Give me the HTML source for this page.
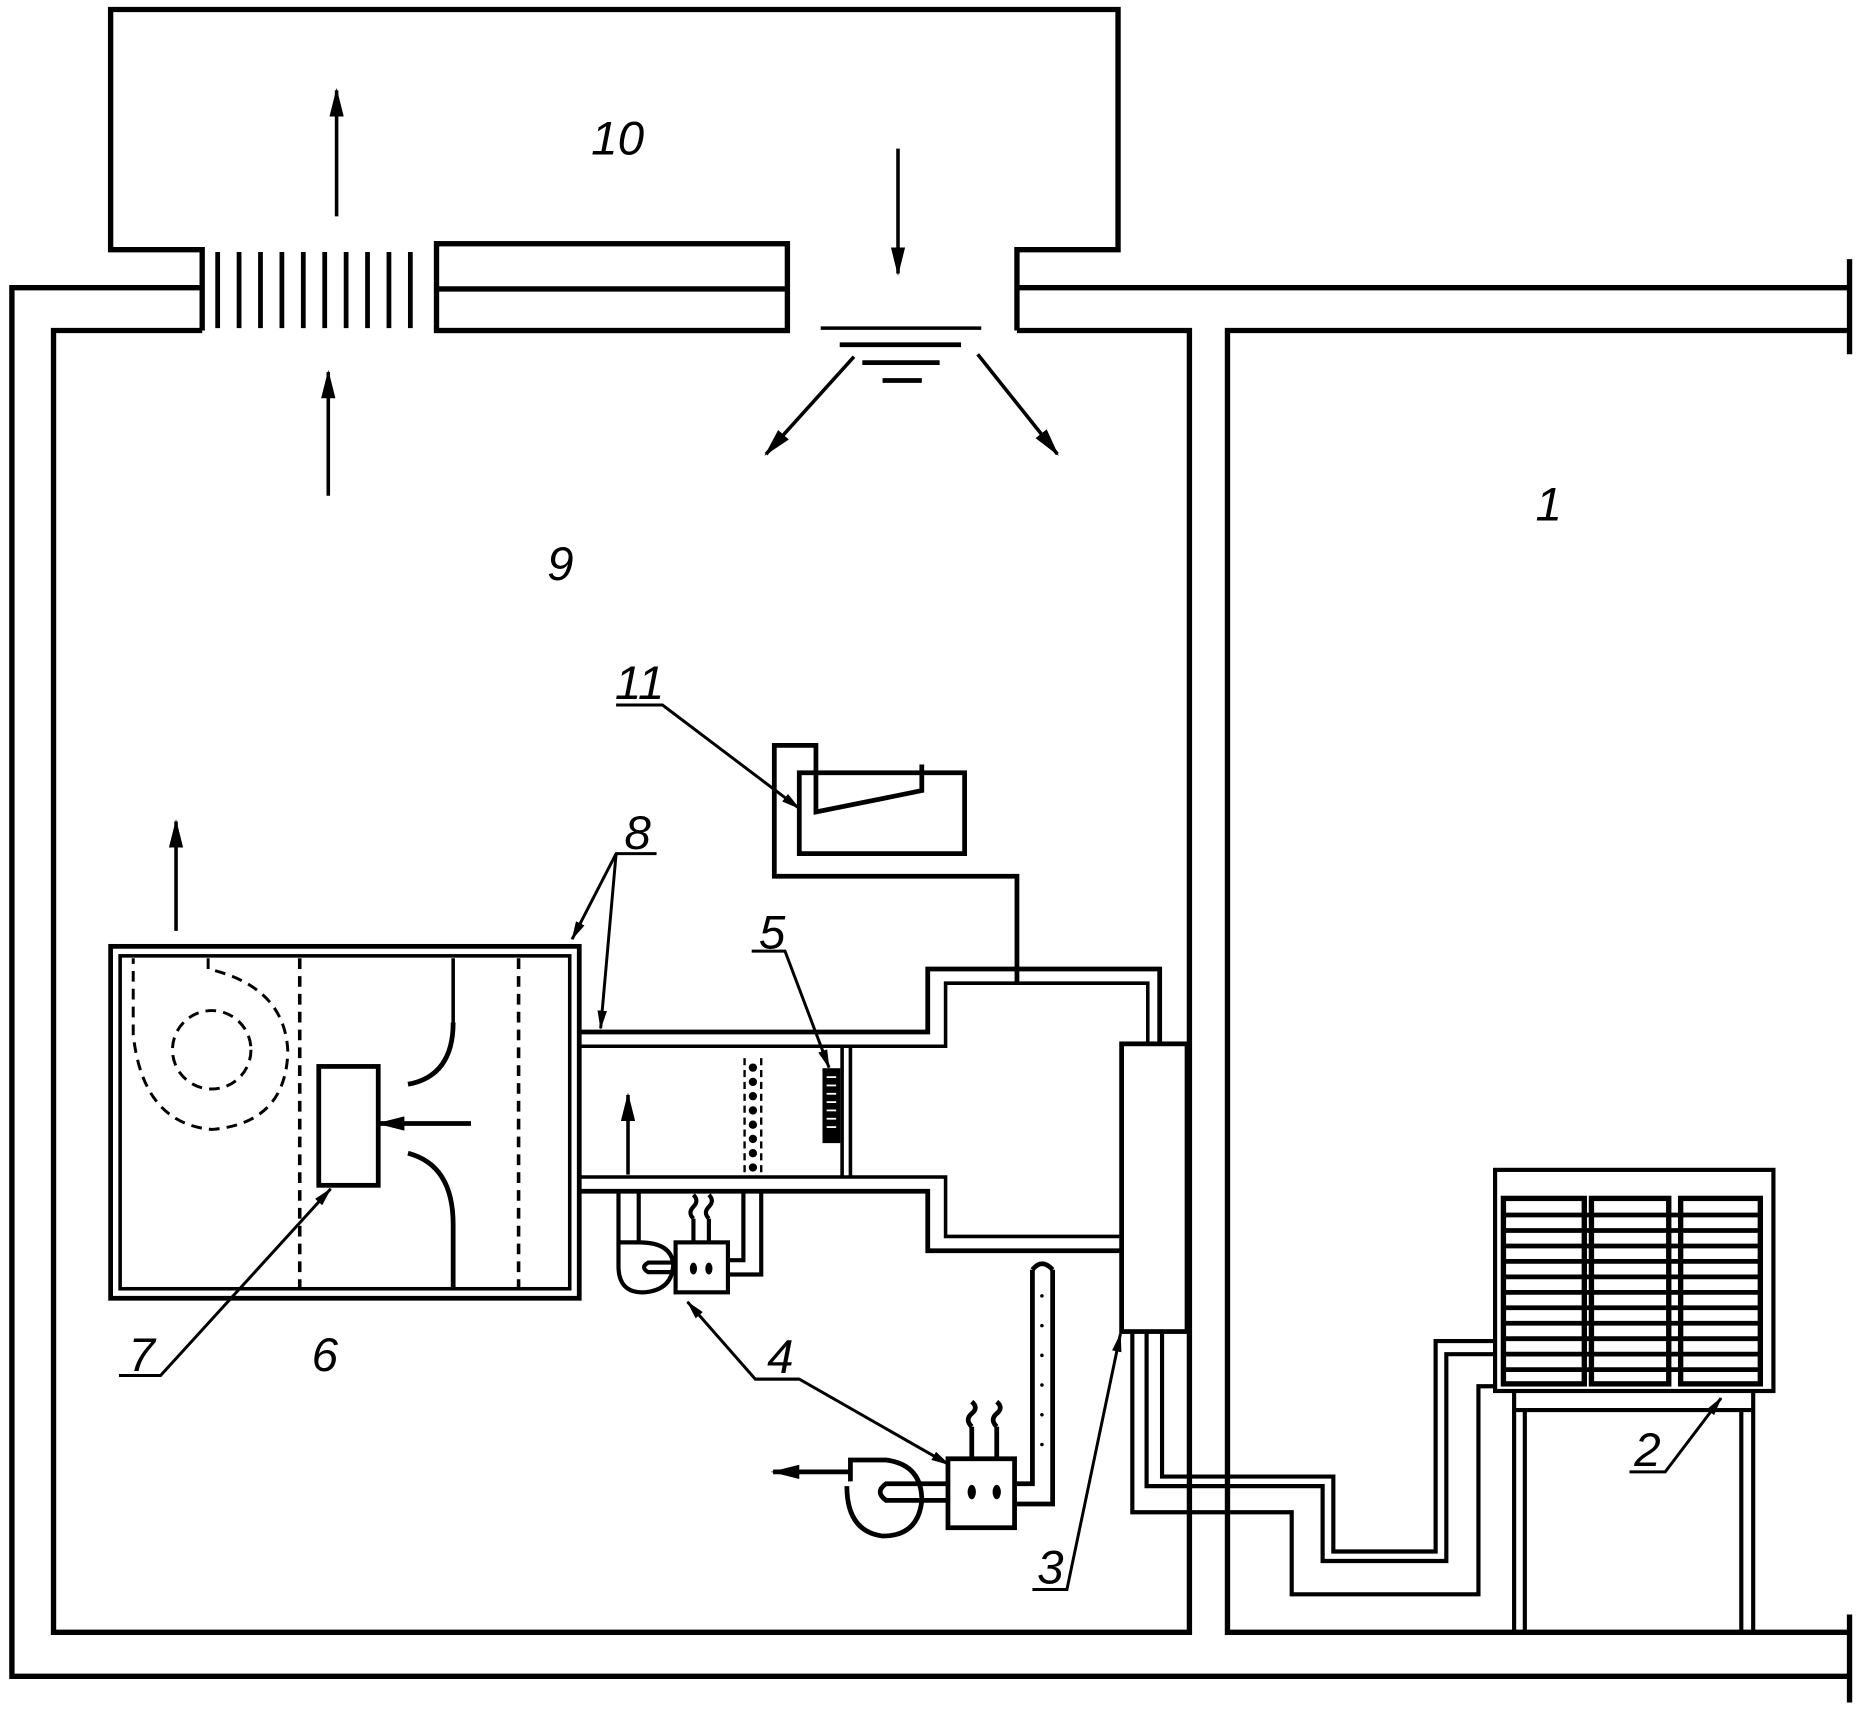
<!DOCTYPE html>
<html><head><meta charset="utf-8"><style>html,body{margin:0;padding:0;background:#fff}svg{display:block}
text{font-family:"Liberation Sans",sans-serif;font-style:italic;font-size:40px;fill:#000}</style></head>
<body>
<svg width="1865" height="1712" viewBox="0 0 1568 1440" preserveAspectRatio="none" xmlns="http://www.w3.org/2000/svg">
<defs>
<marker id="ah" markerWidth="24" markerHeight="12" refX="22" refY="6" orient="auto" markerUnits="userSpaceOnUse" viewBox="0 0 24 12"><path d="M0,0 L24,6 L0,12 Z"/></marker>
<marker id="al" markerWidth="16" markerHeight="8" refX="15" refY="4" orient="auto" markerUnits="userSpaceOnUse" viewBox="0 0 16 8"><path d="M0,0 L16,4 L0,8 Z"/></marker>
</defs>
<g fill="none" stroke="#000" stroke-width="4.5">
<polyline points="170,242 10,242 10,1410 1555,1410"/>
<line x1="1555" y1="1358" x2="1555" y2="1432"/>
<line x1="855" y1="242" x2="1555" y2="242"/>
<line x1="1555" y1="218" x2="1555" y2="298"/>
<polyline points="170,278 45,278 45,1373 1000,1373 1000,278 855,278"/>
<polyline points="1555,278 1032,278 1032,1373 1555,1373"/>
<polyline points="170,278 170,210 93,210 93,8 940,8 940,210 855,210 855,278"/>
<rect x="367" y="205" width="295" height="73"/>
<line x1="367" y1="243" x2="662" y2="243"/>
</g>
<g stroke="#000" stroke-width="4">
<line x1="183" y1="212" x2="183" y2="276"/><line x1="201" y1="212" x2="201" y2="276"/><line x1="219" y1="212" x2="219" y2="276"/><line x1="237" y1="212" x2="237" y2="276"/><line x1="255" y1="212" x2="255" y2="276"/><line x1="273" y1="212" x2="273" y2="276"/><line x1="291" y1="212" x2="291" y2="276"/><line x1="309" y1="212" x2="309" y2="276"/><line x1="327" y1="212" x2="327" y2="276"/><line x1="345" y1="212" x2="345" y2="276"/>
<line x1="690" y1="276" x2="825" y2="276" stroke-width="3"/>
<line x1="706" y1="290" x2="808" y2="290" stroke-width="4"/>
<line x1="725" y1="305" x2="790" y2="305"/>
<line x1="742" y1="320" x2="775" y2="320"/>
</g>
<g stroke="#000" stroke-width="3" marker-end="url(#ah)" fill="none">
<line x1="283" y1="182" x2="283" y2="76"/>
<line x1="276" y1="417" x2="276" y2="313"/>
<line x1="755" y1="125" x2="755" y2="230"/>
<line x1="718" y1="300" x2="644" y2="382"/>
<line x1="822" y1="298" x2="889" y2="382"/>
<line x1="148" y1="783" x2="148" y2="691"/>
<line x1="528" y1="988" x2="528" y2="921"/>
<line x1="396" y1="945" x2="318" y2="945" stroke-width="4"/>
<line x1="715" y1="1238" x2="650" y2="1238" stroke-width="4"/>
</g>
<g fill="none" stroke="#000" stroke-width="4">
<rect x="93" y="796" width="394" height="296"/>
<rect x="101" y="804" width="378" height="280" stroke-width="3"/>
<line x1="381" y1="806" x2="381" y2="860" stroke-width="3"/>
<path d="M381,860 Q381,905 343,912" />
<path d="M343,970 Q381,980 381,1030 L381,1084" />
<rect x="268" y="897" width="50" height="100"/>
</g>
<g fill="none" stroke="#000" stroke-width="2.5" stroke-dasharray="9,6">
<path d="M175,806 L175,815 Q240,830 242,885 Q240,945 178,950 Q120,945 112,870 L112,806"/>
<circle cx="178" cy="883" r="33"/>
<line x1="252" y1="806" x2="252" y2="1084" stroke-width="3"/>
<line x1="436" y1="806" x2="436" y2="1084" stroke-width="3"/>
</g>
<g fill="none" stroke="#000" stroke-width="4">
<polyline points="487,868 780,868 780,815 975,815 975,878"/>
<polyline points="487,880 795,880 795,827 965,827 965,878" stroke-width="3"/>
<polyline points="487,990 795,990 795,1040 943,1040" stroke-width="3"/>
<polyline points="487,1002 780,1002 780,1052 943,1052"/>
<line x1="708" y1="880" x2="708" y2="990" stroke-width="3"/>
<line x1="715" y1="880" x2="715" y2="990" stroke-width="3"/>
<rect x="943" y="878" width="55" height="242"/>
<polyline points="855,827 855,737 651,737 651,627 686,627 686,683 775,665 775,643"/>
<rect x="672" y="650" width="139" height="68"/>
</g>
<g stroke="#000">
<rect x="692" y="899" width="14" height="62" fill="#000"/>
<g stroke="#fff" stroke-width="1.5"><line x1="695" y1="906" x2="703" y2="906"/><line x1="695" y1="913" x2="703" y2="913"/><line x1="695" y1="920" x2="703" y2="920"/><line x1="695" y1="927" x2="703" y2="927"/><line x1="695" y1="934" x2="703" y2="934"/><line x1="695" y1="941" x2="703" y2="941"/><line x1="695" y1="948" x2="703" y2="948"/></g>
</g>
<g stroke="#000" stroke-width="2" stroke-dasharray="6,4" fill="none">
<line x1="626" y1="890" x2="626" y2="988"/><line x1="640" y1="890" x2="640" y2="988"/>
</g>
<g fill="#000"><circle cx="633" cy="898" r="3.5"/><circle cx="633" cy="910" r="3.5"/><circle cx="633" cy="922" r="3.5"/><circle cx="633" cy="934" r="3.5"/><circle cx="633" cy="946" r="3.5"/><circle cx="633" cy="958" r="3.5"/><circle cx="633" cy="970" r="3.5"/><circle cx="633" cy="982" r="3.5"/></g>
<g fill="none" stroke="#000" stroke-width="3.5">
<polyline points="520,1002 520,1045 537,1045 537,1002"/>
<path d="M520,1045 L520,1065 Q520,1088 542,1087 Q565,1085 566,1064 Q565,1045 537,1045"/>
<path d="M568,1062 L545,1062 Q538,1066 545,1070 L568,1070"/>
<rect x="568" y="1045" width="44" height="42"/>
<polyline points="612,1060 625,1060 625,1002"/>
<polyline points="612,1072 640,1072 640,1002"/>
<line x1="583" y1="1045" x2="583" y2="1025"/><line x1="596" y1="1045" x2="596" y2="1025"/>
<path d="M583,1025 q-5,-5 0,-10 q5,-5 0,-10"/><path d="M596,1025 q-5,-5 0,-10 q5,-5 0,-10"/>
</g>
<g fill="#000"><ellipse cx="583" cy="1067" rx="3" ry="5"/><ellipse cx="596" cy="1067" rx="3" ry="5"/></g>
<g fill="none" stroke="#000" stroke-width="4">
<rect x="797" y="1227" width="56" height="58"/>
<path d="M715,1246 L715,1228 L745,1228 Q775,1232 775,1262 Q772,1292 742,1292 Q712,1288 712,1250"/>
<path d="M797,1248 L745,1248 Q735,1255 745,1262 L797,1262"/>
<polyline points="853,1248 868,1248 868,1068"/>
<polyline points="853,1265 885,1265 885,1068"/>
<path d="M868,1068 Q876,1058 885,1068"/>
<line x1="817" y1="1227" x2="817" y2="1200"/><line x1="838" y1="1227" x2="838" y2="1200"/>
<path d="M817,1200 q-6,-6 0,-11 q6,-5 0,-10"/><path d="M838,1200 q-6,-6 0,-11 q6,-5 0,-10"/>
</g>
<g fill="#000"><ellipse cx="817" cy="1255" rx="3.5" ry="6"/><ellipse cx="838" cy="1255" rx="3.5" ry="6"/>
<circle cx="876" cy="1090" r="1.5"/><circle cx="876" cy="1115" r="1.5"/><circle cx="876" cy="1140" r="1.5"/><circle cx="876" cy="1165" r="1.5"/><circle cx="876" cy="1190" r="1.5"/><circle cx="876" cy="1215" r="1.5"/></g>
<g fill="none" stroke="#000" stroke-width="3.5">
<polyline points="952,1120 952,1272 1086,1272 1086,1341 1243,1341 1243,1166 1257,1166"/>
<polyline points="964,1120 964,1250 1112,1250 1112,1313 1216,1313 1216,1139 1257,1139"/>
<polyline points="977,1120 977,1242 1121,1242 1121,1305 1207,1305 1207,1128 1257,1128"/>
<rect x="1257" y="984" width="234" height="186"/>
<rect x="1264" y="1008" width="68" height="156" stroke-width="4.5"/>
<rect x="1338" y="1008" width="65" height="156" stroke-width="4.5"/>
<rect x="1413" y="1008" width="67" height="156" stroke-width="4.5"/>
<line x1="1273" y1="1170" x2="1273" y2="1373"/><line x1="1282" y1="1186" x2="1282" y2="1373"/>
<line x1="1474" y1="1170" x2="1474" y2="1373"/><line x1="1464" y1="1186" x2="1464" y2="1373"/>
<line x1="1273" y1="1186" x2="1474" y2="1186"/>
</g>
<g stroke="#000" stroke-width="4">
<path d="M1264,1022H1480M1264,1035H1480M1264,1048H1480M1264,1061H1480M1264,1074H1480M1264,1087H1480M1264,1100H1480M1264,1113H1480M1264,1126H1480M1264,1139H1480M1264,1152H1480"/>
</g>
<g stroke="#000" stroke-width="3.5"><line x1="1332" y1="1008" x2="1332" y2="1164"/><line x1="1338" y1="1008" x2="1338" y2="1164"/><line x1="1403" y1="1008" x2="1403" y2="1164"/><line x1="1413" y1="1008" x2="1413" y2="1164"/></g>
<g fill="none" stroke="#000" stroke-width="2.5" marker-end="url(#al)">
<polyline points="518,593 557,593 672,680"/>
<polyline points="552,718 518,718 481,790"/>
<polyline points="518,718 505,865"/>
<polyline points="632,800 660,800 697,898"/>
<polyline points="100,1157 135,1157 278,1000"/>
<polyline points="635,1160 672,1160 798,1232"/>
<polyline points="672,1160 635,1160 578,1095"/>
<polyline points="868,1337 897,1337 942,1122"/>
<polyline points="1370,1238 1400,1238 1447,1176"/>
</g>
<text x="497" y="130">10</text>
<text x="460" y="488">9</text>
<text x="1291" y="438">1</text>
<text x="262" y="1153">6</text>
<text x="517" y="588">11</text>
<text x="525" y="714">8</text>
<text x="638" y="798">5</text>
<text x="108" y="1153">7</text>
<text x="645" y="1155">4</text>
<text x="872" y="1332">3</text>
<text x="1374" y="1233">2</text>
</svg>
</body></html>
